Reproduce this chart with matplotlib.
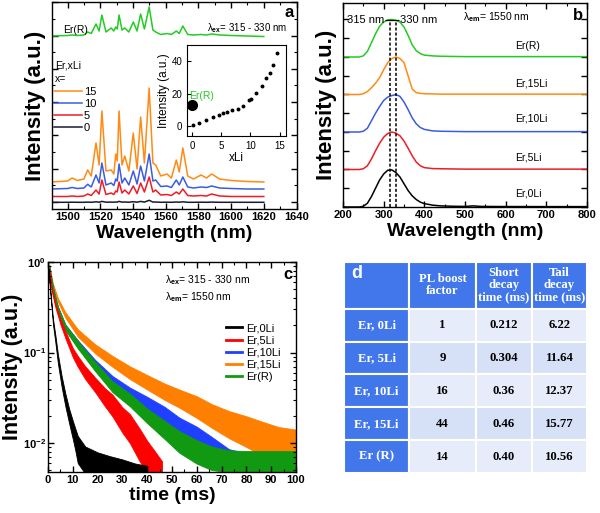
import matplotlib
matplotlib.use('Agg')
import matplotlib.pyplot as plt
from matplotlib.ticker import MultipleLocator, NullFormatter, FixedLocator
from matplotlib.lines import Line2D

plt.rcParams['font.family'] = ['Liberation Sans', 'DejaVu Sans']
plt.rcParams['font.weight'] = 'bold'
plt.rcParams['axes.labelweight'] = 'bold'
plt.rcParams['mathtext.fontset'] = 'custom'
plt.rcParams['mathtext.rm'] = 'Liberation Sans'
plt.rcParams['mathtext.it'] = 'Liberation Sans:italic'
plt.rcParams['mathtext.bf'] = 'Liberation Sans:bold'

# ---- panel a : emission spectra (height in px above axis bottom)
wl_a = [1490, 1500, 1502.8, 1506, 1510, 1512.3, 1514.5, 1517.4, 1519.3, 1521.0, 1523.5,
        1526.7, 1528.3, 1529.5, 1530.4, 1531.5, 1533.3, 1535.0, 1537.5, 1540.2, 1542.5,
        1544.7, 1547.0, 1549.9, 1552.2, 1553.9, 1557, 1560.8, 1563.5, 1566.5, 1568.3,
        1570.5, 1573.5, 1577, 1581.6, 1585, 1588.1, 1593, 1600, 1610, 1620]
em_15li = [27, 28, 31, 28.5, 30, 39, 33, 66, 44, 98, 38, 39, 35, 55, 48, 98, 44, 53, 38, 76, 40,
           92, 46, 121, 46, 44, 33, 35, 31, 49, 37, 61, 33, 30, 34, 31, 35, 30, 28.5, 27.5, 27]
em_10li = [20, 20.5, 21.5, 20.5, 21, 24.7, 22, 34, 26, 46, 24, 26, 23.5, 30, 28, 45, 26, 31, 24, 38, 25,
           43, 28, 55, 28, 29, 22.5, 23, 21.5, 29, 24, 32, 22, 21, 22, 21.5, 23, 21, 20.5, 20, 20]
em_5li = [12.5, 12.5, 13, 12.5, 13, 15, 13.5, 19, 15, 29, 14.5, 16, 14.5, 18, 17, 27, 16, 19, 15, 23, 15.5,
          26, 17, 32, 17, 19, 14, 14.5, 13.5, 17, 15, 20, 13.5, 13, 13.5, 13, 15, 13, 12.5, 12.5, 12.5]
em_0li = [6.7, 6.7, 6.8, 6.7, 6.7, 6.9, 6.7, 7.2, 6.8, 7.6, 6.8, 6.9, 6.8, 7.0, 6.9, 7.6, 6.9, 7.0, 6.8, 7.3, 6.8,
          7.6, 6.9, 8.7, 6.9, 7.0, 6.7, 6.8, 6.7, 7.0, 6.8, 7.2, 6.7, 6.7, 6.8, 6.7, 6.9, 6.7, 6.7, 6.7, 6.7]
em_r = [173, 173.5, 174, 173.5, 174, 177, 175.5, 185, 178, 194, 177, 181, 178, 182, 180, 194, 179, 181, 177, 187, 178,
        195, 180, 202, 179, 177, 174.5, 175.5, 174.5, 178, 175.5, 183, 174.5, 174, 174.5, 174, 175, 174, 173.5, 173, 172.5]

# inset: integrated intensity vs Li content
xli = [0.1, 1.2, 2.4, 3.5, 4.6, 5.2, 6.0, 6.9, 7.8, 8.8, 9.8, 10.1, 11.0, 11.9, 12.6, 13.3, 13.9, 14.6]
xli_int = [0.6, 2.0, 3.8, 5.5, 7.0, 8.0, 8.8, 9.7, 10.7, 12.2, 16.4, 17.0, 20.6, 25.0, 29.5, 33.0, 37.5, 44.8]
er_r_int = 13

# ---- panel b : excitation spectra (normalised)
wl_b = [200, 240, 250, 260, 270, 280, 290, 300, 310, 320, 330, 340, 350, 360, 370, 380, 390, 400,
        420, 440, 470, 500, 520, 540, 600, 700, 800]
ex_0li = [0, 0, 0.02, 0.1, 0.28, 0.5, 0.72, 0.88, 0.98, 0.99, 0.92, 0.8, 0.62, 0.44, 0.3, 0.2, 0.13, 0.09,
          0.05, 0.03, 0.02, 0.015, 0.03, 0.015, 0.012, 0.01, 0.01]
ex_5li = [0, 0, 0.02, 0.1, 0.28, 0.5, 0.7, 0.86, 0.96, 1.0, 0.97, 0.9, 0.76, 0.57, 0.37, 0.2, 0.1, 0.05,
          0.025, 0.02, 0.015, 0.01, 0.01, 0.01, 0.01, 0.01, 0.01]
ex_10li = [0, 0, 0.02, 0.1, 0.3, 0.5, 0.68, 0.84, 0.93, 0.97, 1.0, 0.95, 0.8, 0.6, 0.38, 0.22, 0.12, 0.07,
           0.03, 0.02, 0.015, 0.01, 0.01, 0.01, 0.01, 0.01, 0.01]
ex_15li = [0, 0, 0.02, 0.08, 0.18, 0.3, 0.45, 0.66, 0.85, 0.96, 1.0, 0.96, 0.85, 0.5, 0.15, 0.05, 0.03, 0.02,
           0.015, 0.01, 0.01, 0.01, 0.01, 0.01, 0.01, 0.01, 0.01]
ex_r = [0, 0, 0.03, 0.15, 0.38, 0.62, 0.82, 0.93, 0.99, 1.0, 0.98, 0.93, 0.8, 0.58, 0.33, 0.17, 0.09, 0.05,
        0.03, 0.02, 0.015, 0.01, 0.01, 0.01, 0.01, 0.01, 0.01]
ex_labels = ['Er,0Li', 'Er,5Li', 'Er,10Li', 'Er,15Li', 'Er(R)']

# ---- panel c : decay curves (centre value and noise half-width in decades)
t_long = [0.5, 2, 4, 7, 12, 19, 26, 33, 40, 47, 53, 60, 66, 73, 80, 87, 93, 100]
dec_15li = [0.9, 0.55, 0.38, 0.26, 0.165, 0.11, 0.08, 0.06, 0.047, 0.037, 0.031, 0.025, 0.020, 0.016, 0.0134, 0.011, 0.0095, 0.0085]
sp_15li = [0.02, 0.02, 0.02, 0.03, 0.04, 0.05, 0.06, 0.07, 0.08, 0.09, 0.10, 0.12, 0.13, 0.15, 0.17, 0.19, 0.2, 0.22]
dec_10li = [0.85, 0.5, 0.3, 0.19, 0.125, 0.074, 0.048, 0.035, 0.027, 0.02, 0.0145, 0.011, 0.0085, 0.0065, 0.006, 0.0058, 0.0058, 0.0058]
sp_10li = [0.02, 0.02, 0.03, 0.03, 0.04, 0.05, 0.06, 0.07, 0.08, 0.1, 0.12, 0.14, 0.14, 0.12, 0.11, 0.11, 0.11, 0.11]
dec_r = [0.85, 0.5, 0.3, 0.19, 0.122, 0.07, 0.042, 0.03, 0.02, 0.014, 0.0103, 0.008, 0.0068, 0.0063, 0.0062, 0.0062, 0.0062, 0.0062]
sp_r = [0.02, 0.02, 0.03, 0.03, 0.04, 0.05, 0.06, 0.07, 0.08, 0.1, 0.12, 0.13, 0.13, 0.12, 0.12, 0.12, 0.12, 0.12]
t_5li = [0.5, 1.5, 3, 5, 7, 10, 12, 15, 19, 23, 26, 30, 33, 37, 40, 43, 46]
dec_5li = [0.8, 0.5, 0.33, 0.22, 0.158, 0.1, 0.08, 0.06, 0.044, 0.032, 0.026, 0.018, 0.0145, 0.0095, 0.007, 0.0058, 0.005]
sp_5li = [0.02, 0.02, 0.02, 0.03, 0.04, 0.05, 0.06, 0.07, 0.08, 0.1, 0.12, 0.14, 0.16, 0.18, 0.18, 0.15, 0.1]
t_0li = [0.3, 1, 2, 3, 4, 5.5, 7, 8.5, 10, 11, 12, 15, 20, 25, 30, 35, 40]
dec_0li = [0.8, 0.45, 0.22, 0.14, 0.085, 0.048, 0.03, 0.02, 0.014, 0.011, 0.0085, 0.0065, 0.006, 0.0057, 0.0055, 0.0052, 0.005]
sp_0li = [0.02, 0.02, 0.03, 0.04, 0.05, 0.06, 0.07, 0.08, 0.1, 0.12, 0.15, 0.15, 0.12, 0.1, 0.08, 0.06, 0.05]

# ---- panel d : table
tab_rows = ['Er, 0Li', 'Er, 5Li', 'Er, 10Li', 'Er, 15Li', 'Er (R)']
tab_heads = ['', 'PL boost\nfactor', 'Short\ndecay\ntime (ms)', 'Tail\ndecay\ntime (ms)']
boost = ['1', '9', '16', '44', '14']
short_decay = ['0.212', '0.304', '0.36', '0.46', '0.40']
tail_decay = ['6.22', '11.64', '12.37', '15.77', '10.56']

W, H = 600, 513
fig = plt.figure(figsize=(6, 5.13), dpi=100)


def box(l, t, r, b):
    return [l / W, 1 - b / H, (r - l) / W, (b - t) / H]


def style(ax, size=8):
    ax.tick_params(which='both', direction='in', top=True, right=True, labelsize=size, pad=2.5)
    ax.tick_params(which='major', length=4, width=1)
    ax.tick_params(which='minor', length=2.2, width=0.8)
    for s in ax.spines.values():
        s.set_linewidth(1)
    for lab in ax.get_xticklabels() + ax.get_yticklabels():
        lab.set_fontweight('bold')


# ================= a
ax = fig.add_axes(box(52, 2, 297, 209))
ax.plot(wl_a, em_0li, color='#1a1a2e', lw=1.1)
ax.plot(wl_a, em_5li, color='#ee1c25', lw=1.1)
ax.plot(wl_a, em_10li, color='#3c5ce0', lw=1.1)
ax.plot(wl_a, em_15li, color='#ff8a14', lw=1.1)
ax.plot(wl_a, em_r, color='#22cc22', lw=1.1)
ax.set_xlim(1490.5, 1640.3)
ax.set_ylim(0, 207)
ax.xaxis.set_major_locator(MultipleLocator(20))
ax.xaxis.set_minor_locator(MultipleLocator(10))
ax.yaxis.set_major_locator(MultipleLocator(33.3, offset=7))
ax.yaxis.set_minor_locator(MultipleLocator(16.65, offset=7))
ax.yaxis.set_major_formatter(NullFormatter())
style(ax)
ax.set_xlabel('Wavelength (nm)', fontsize=14, labelpad=2)
ax.set_ylabel('Intensity (a.u.)', fontsize=16, labelpad=2)
ax.text(1497, 179, 'Er(R)', fontsize=7.5, fontweight='normal', va='center')
ax.text(1585.5, 181, 'λ$_{\\rm ex}$= 315 - 330 nm', fontsize=7, fontweight='normal', va='center')
ax.text(0.985, 0.985, 'a', transform=ax.transAxes, ha='right', va='top', fontsize=12)
ax.text(0.012, 0.66, 'Er,xLi\nx=', transform=ax.transAxes, fontsize=7.5, fontweight='normal',
        va='center', linespacing=1.35)
hands = [Line2D([], [], color=c, lw=1.1) for c in ['#ff8a14', '#3c5ce0', '#ee1c25', '#1a1a2e']]
ax.legend(hands, ['15', '10', '5', '0'], loc='upper left', bbox_to_anchor=(0.0, 0.6),
          frameon=False, prop={'size': 8, 'weight': 'normal'}, handlelength=2.5,
          handletextpad=0.15, labelspacing=0.18, borderpad=0.1, borderaxespad=0.1)

# inset
axi = fig.add_axes(box(187, 45, 286, 136))
axi.plot(xli, xli_int, 'o', color='black', ms=1.8)
axi.plot([0], [er_r_int], 'o', color='black', ms=7)
axi.text(-0.6, 17, 'Er(R)', color='#22cc22', fontsize=7.5, fontweight='normal')
axi.set_xlim(-0.9, 16.1)
axi.set_ylim(-6, 50)
axi.set_xticks([0, 5, 10, 15])
axi.set_yticks([0, 20, 40])
axi.tick_params(direction='in', labelsize=7, length=3)
for lab in axi.get_xticklabels() + axi.get_yticklabels():
    lab.set_fontweight('normal')
axi.set_xlabel('xLi', fontsize=8.5, fontweight='normal', labelpad=1)
axi.set_ylabel('Intensity (a.u.)', fontsize=8.5, fontweight='normal', labelpad=1)

# ================= b
axb = fig.add_axes(box(343, 3, 587, 207))
cols_b = ['black', '#ee1c25', '#3c5ce0', '#ff8a14', '#22cc22']
series_b = [ex_0li, ex_5li, ex_10li, ex_15li, ex_r]
label_y = [0.37, 1.31, 2.35, 3.28, 4.29]
for k in range(5):
    axb.plot(wl_b, [v + k for v in series_b[k]], color=cols_b[k], lw=1.1)
    axb.text(623, label_y[k], ex_labels[k], fontsize=7.5, fontweight='normal', va='center')
axb.vlines([315, 330], 0, 4.99, colors='black', linestyles=(0, (2, 1.3)), lw=1.1)
axb.hlines(4.99, 303, 338, colors='black', lw=0.9)
axb.text(302, 4.99, '315 nm', ha='right', va='center', fontsize=8, fontweight='normal')
axb.text(340, 4.99, '330 nm', ha='left', va='center', fontsize=8, fontweight='normal')
axb.text(0.49, 0.93, 'λ$_{\\rm em}$= 1550 nm', transform=axb.transAxes, fontsize=7.5,
         fontweight='normal', va='center')
axb.text(0.985, 0.975, 'b', transform=axb.transAxes, ha='right', va='top', fontsize=12)
axb.set_xlim(200, 800)
axb.set_ylim(0, 5.44)
axb.xaxis.set_major_locator(MultipleLocator(100))
axb.xaxis.set_minor_locator(MultipleLocator(50))
axb.yaxis.set_major_locator(MultipleLocator(0.5))
axb.yaxis.set_major_formatter(NullFormatter())
style(axb)
axb.set_xlabel('Wavelength (nm)', fontsize=14, labelpad=2)
axb.set_ylabel('Intensity (a.u.)', fontsize=16, labelpad=2)

# ================= c
axc = fig.add_axes(box(48, 262, 296, 472))
decays = [(t_long, dec_15li, sp_15li, '#ff7f00'),
          (t_long, dec_10li, sp_10li, '#2040ff'),
          (t_long, dec_r, sp_r, '#119911'),
          (t_5li, dec_5li, sp_5li, '#ff0000'),
          (t_0li, dec_0li, sp_0li, 'black')]
for t, c, s, col in decays:
    lo = [v / 10 ** w for v, w in zip(c, s)]
    hi = [v * 10 ** w for v, w in zip(c, s)]
    axc.fill_between(t, lo, hi, color=col, lw=0.6)
axc.set_yscale('log')
axc.set_xlim(0, 100)
axc.set_ylim(0.0048, 1)
axc.xaxis.set_major_locator(MultipleLocator(10))
axc.xaxis.set_minor_locator(MultipleLocator(5))
axc.yaxis.set_major_locator(FixedLocator([0.01, 0.1, 1]))
axc.set_yticklabels([r'$\mathbf{10^{-2}}$', r'$\mathbf{10^{-1}}$', r'$\mathbf{10^{0}}$'])
axc.yaxis.set_minor_formatter(NullFormatter())
style(axc)
axc.tick_params(axis='y', pad=1.5)
axc.set_xlabel('time (ms)', fontsize=14, labelpad=1)
axc.set_ylabel('Intensity (a.u.)', fontsize=15.5, labelpad=0)
axc.text(0.47, 0.914, 'λ$_{\\rm ex}$= 315 - 330 nm', transform=axc.transAxes, fontsize=7.5,
         fontweight='normal', va='center')
axc.text(0.47, 0.833, 'λ$_{\\rm em}$= 1550 nm', transform=axc.transAxes, fontsize=7.5,
         fontweight='normal', va='center')
axc.text(0.985, 0.975, 'c', transform=axc.transAxes, ha='right', va='top', fontsize=12)
leg_cols = ['black', '#ff0000', '#2040ff', '#ff7f00', '#119911']
leg_labs = ['Er,0Li', 'Er,5Li', 'Er,10Li', 'Er,15Li', 'Er(R)']
axc.legend([Line2D([], [], color=c, lw=2) for c in leg_cols], leg_labs, loc='upper left',
           bbox_to_anchor=(0.69, 0.74), frameon=False, prop={'size': 8, 'weight': 'normal'},
           handlelength=1.5, handletextpad=0.3, labelspacing=0.2, borderpad=0.1)

# ================= d
axd = fig.add_axes(box(344, 262, 587, 473))
axd.axis('off')
cells = [tab_heads] + [[tab_rows[i], boost[i], short_decay[i], tail_decay[i]] for i in range(5)]
tbl = axd.table(cellText=cells, cellLoc='center', bbox=[0, 0, 1, 1], colWidths=[65, 66, 56, 55])
tbl.auto_set_font_size(False)
dark = '#4277eb'
light = ['#d6e1f7', '#e6ecf9']
for (r, c), cell in tbl.get_celld().items():
    cell.set_height(47 if r == 0 else 33)
    cell.set_edgecolor('white')
    cell.set_linewidth(1.5)
    txt = cell.get_text()
    txt.set_fontfamily('Liberation Serif')
    txt.set_fontweight('bold')
    txt.set_fontsize(9.2)
    txt.set_linespacing(1.0)
    if r == 0 or c == 0:
        cell.set_facecolor(dark)
        txt.set_color('white')
    else:
        cell.set_facecolor(light[r % 2])
        txt.set_color('black')
axd.text(0.03, 0.985, 'd', transform=axd.transAxes, ha='left', va='top', fontsize=13,
         color='white', zorder=5)

fig.savefig('out.png', dpi=100)
